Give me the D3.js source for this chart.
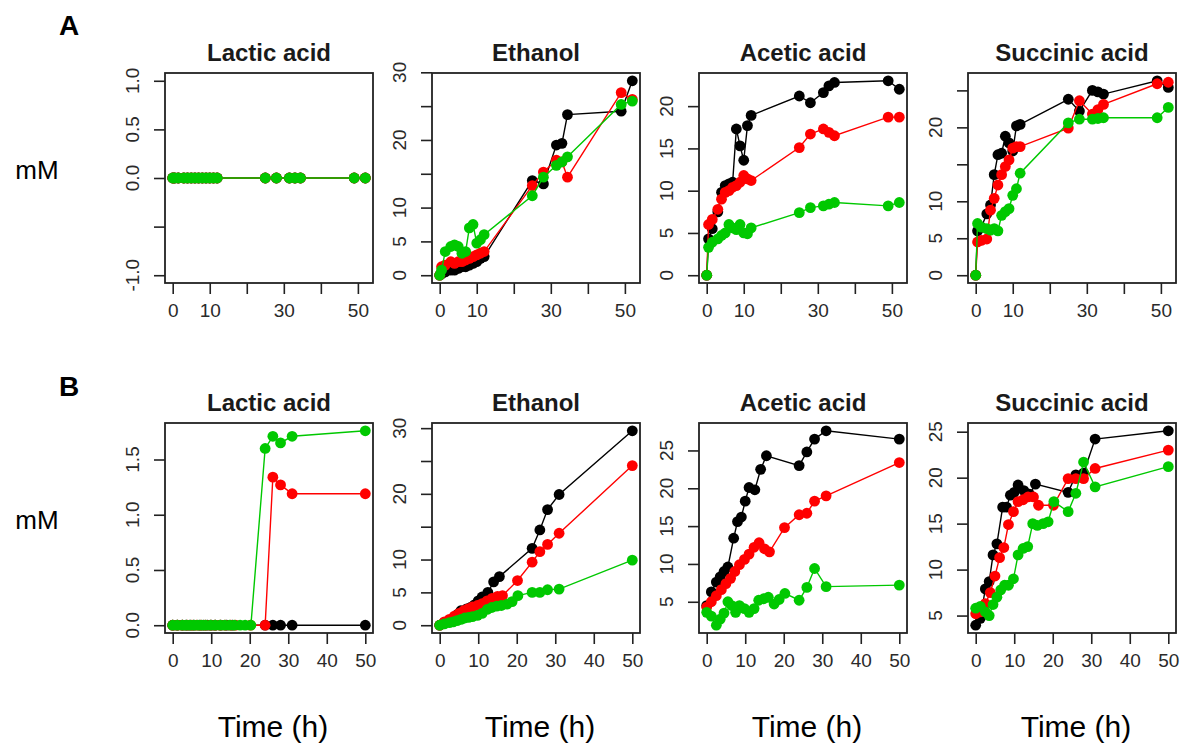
<!DOCTYPE html>
<html>
<head>
<meta charset="utf-8">
<script src="https://cdn.jsdelivr.net/npm/d3@7"></script>
<style>
	body { margin: 0; background: #fff; }
	svg { font-family: "Liberation Sans", Arial, sans-serif; }
</style>
</head>
<body>
<script>
//Panel titles and row letters
const metabolites = ["Lactic acid", "Ethanol", "Acetic acid", "Succinic acid"];
const rowLetters = ["A", "B"];
const seriesColors = ["#000000", "#ff0000", "#00c800"];

//Sampling times (h)
const timeA = [0, 0.5, 1.5, 3, 4, 5, 6, 7, 8, 9, 10, 11, 12, 25, 28, 31.5, 33, 34.5, 49, 52];
const timeB_black = [0, 1.2, 2.5, 3.5, 4.5, 5.5, 7, 8, 9, 10, 11, 12.5, 14, 15.5, 24, 26, 28, 31, 50];
const timeB_red = [0, 1.2, 2.5, 3.8, 5, 6.2, 7.3, 8.5, 9.8, 11, 12.3, 13.6, 15, 16.3, 20.2, 24, 26, 28, 31, 50];
const timeB_green = [0, 1.2, 2.5, 3.5, 4.5, 5.5, 6.5, 7.5, 8.5, 9.8, 11, 12.3, 13.5, 14.8, 16, 17.5, 18.8, 20.3, 24, 26, 28, 31, 50];

//Row A concentrations (mM)
const lacticA_black = [0, 0, 0, 0, 0, 0, 0, 0, 0, 0, 0, 0, 0, 0, 0, 0, 0, 0, 0, 0];
const lacticA_red = [0, 0, 0, 0, 0, 0, 0, 0, 0, 0, 0, 0, 0, 0, 0, 0, 0, 0, 0, 0];
const lacticA_green = [0, 0, 0, 0, 0, 0, 0, 0, 0, 0, 0, 0, 0, 0, 0, 0, 0, 0, 0, 0];
const ethanolA_black = [0, 0.2, 0.5, 0.75, 0.75, 1, 1.25, 1.25, 1.5, 1.75, 2, 2.5, 2.75, 14, 13.5, 19.25, 19.5, 23.75, 24.25, 28.75];
const ethanolA_red = [0, 1.25, 1.5, 2, 1.75, 2, 2, 2.25, 2.5, 2.75, 3, 3.25, 3.5, 13.25, 15.25, 17, 16.75, 14.5, 27, 26];
const ethanolA_green = [0, 0.75, 3.5, 4.25, 4.5, 4.25, 3.25, 3.5, 7, 7.5, 4.75, 5.25, 6, 11.75, 14.5, 16.25, 16.75, 17.5, 25.25, 25.75];
const aceticA_black = [0, 4.3, 5.5, 7.5, 9.8, 10.6, 10.8, 11, 17.3, 15.3, 13.6, 17.7, 18.9, 21.2, 20.4, 21.6, 22.4, 22.8, 23, 22];
const aceticA_red = [0, 6, 6.6, 7.8, 9, 9.8, 10, 10.4, 10.6, 11, 11.8, 11.4, 11.2, 15.1, 16.7, 17.3, 16.9, 16.5, 18.7, 18.7];
const aceticA_green = [0, 3.3, 3.9, 4.3, 4.7, 5, 6, 5.6, 5.4, 6, 5, 4.9, 5.6, 7.4, 8, 8.2, 8.4, 8.6, 8.2, 8.6];
const succinicA_black = [0, 6, 6.5, 8.3, 9.5, 13.6, 16.3, 16.5, 18.8, 17.9, 16.8, 20.2, 20.4, 23.8, 22.2, 25, 24.8, 24.5, 26.3, 25.4];
const succinicA_red = [0, 4.5, 4.7, 4.9, 8.8, 10.4, 12.2, 13.6, 14.7, 15.6, 17.2, 17.4, 17.4, 19.9, 23.6, 21.8, 22.4, 23.1, 25.9, 26.1];
const succinicA_green = [0, 7, 6.5, 6.3, 6.1, 6.3, 6, 8.1, 8.6, 9, 10.8, 11.7, 13.8, 20.6, 21.1, 21.1, 21.2, 21.3, 21.3, 22.7];

//Row B concentrations (mM)
const lacticB_black = [0, 0, 0, 0, 0, 0, 0, 0, 0, 0, 0, 0, 0, 0, 0, 0, 0, 0, 0];
const lacticB_red = [0, 0, 0, 0, 0, 0, 0, 0, 0, 0, 0, 0, 0, 0, 0, 0, 1.34, 1.27, 1.19, 1.19];
const lacticB_green = [0, 0, 0, 0, 0, 0, 0, 0, 0, 0, 0, 0, 0, 0, 0, 0, 0, 0, 1.6, 1.71, 1.65, 1.71, 1.76];
const ethanolB_black = [0, 0.4, 0.7, 0.9, 1.6, 2.2, 2.5, 2.7, 3.1, 3.7, 4.3, 5, 6.6, 7.4, 11.7, 14.5, 17.6, 19.9, 29.6];
const ethanolB_red = [0, 0.5, 0.9, 1.4, 1.8, 2.2, 2.5, 2.8, 3, 3.3, 3.7, 4.1, 4.4, 4.5, 6.8, 9.6, 11.2, 12.3, 14, 24.3];
const ethanolB_green = [0, 0.2, 0.4, 0.5, 0.7, 0.9, 1.1, 1.2, 1.3, 1.5, 1.8, 2.4, 2.7, 2.9, 3, 3.2, 3.6, 4.5, 5, 5, 5.4, 5.5, 9.9];
const aceticB_black = [4.5, 6.3, 7.6, 8.3, 9, 9.6, 13.4, 15.6, 16.2, 18.3, 20.1, 19.8, 22.5, 24.3, 23, 24.8, 26.5, 27.6, 26.5];
const aceticB_red = [4.3, 5, 5.8, 6.6, 7.4, 8.1, 9, 9.9, 10.6, 11.3, 12.2, 12.8, 12, 11.6, 14.8, 16.5, 16.7, 18.3, 19, 23.4];
const aceticB_green = [3.6, 3.1, 1.9, 2.7, 3.5, 5, 4.5, 3.6, 4.5, 4.1, 3.6, 4.1, 5.2, 5.4, 5.6, 4.7, 5.3, 6.1, 5.2, 6.9, 9.4, 7, 7.2];
const succinicB_black = [3.95, 4.7, 7.9, 8.7, 11.6, 12.8, 16.8, 16.8, 18.1, 18.4, 19.2, 18.6, 18.2, 19.3, 18.4, 20.3, 20.5, 24.2, 25.1];
const succinicB_red = [5.2, 5.4, 6.3, 7.5, 9.3, 11.3, 12.4, 14.9, 16.3, 17.4, 17.6, 17.9, 17.9, 17, 17, 19.9, 19.9, 19.9, 21, 23];
const succinicB_green = [5.8, 6, 5.4, 5, 6.2, 7, 7.8, 8.3, 8.3, 9, 11.6, 12.3, 12.5, 15, 14.8, 15, 15.2, 17.4, 16.3, 18.3, 21.7, 19, 21.2];

//Tick values and the labels R kept
const xTicks = [0, 10, 20, 30, 40, 50];
const xLabelsA = [0, 10, 30, 50];
const xLabelsB = [0, 10, 20, 30, 40, 50];
const yTicksA = [[-1, -0.5, 0, 0.5, 1], [0, 5, 10, 15, 20, 25, 30], [0, 5, 10, 15, 20], [0, 5, 10, 15, 20, 25]];
const yLabelsA = [[-1, 0, 0.5, 1], [0, 5, 10, 20, 30], [0, 5, 10, 15, 20], [0, 5, 10, 20]];
const yTicksB = [[0, 0.5, 1, 1.5], [0, 5, 10, 15, 20, 25, 30], [5, 10, 15, 20, 25], [5, 10, 15, 20, 25]];
const yLabelsB = [[0, 0.5, 1, 1.5], [0, 5, 10, 20, 30], [5, 10, 15, 20, 25], [5, 10, 15, 20, 25]];

//Frame
let width = 1182;
let height = 747;
let panelLefts = [165, 432, 699, 968];
let panelW = 208;
let panelH = 210;

let svg = d3.select("body")
	.append("svg")
	.attr("width", width)
	.attr("height", height);

let rows = [
	{
		letter: rowLetters[0], top: 73, letterY: 35,
		times: [timeA, timeA, timeA],
		values: [
			[lacticA_black, lacticA_red, lacticA_green],
			[ethanolA_black, ethanolA_red, ethanolA_green],
			[aceticA_black, aceticA_red, aceticA_green],
			[succinicA_black, succinicA_red, succinicA_green]
		],
		yTicks: yTicksA, yLabels: yLabelsA, xLabels: xLabelsA
	},
	{
		letter: rowLetters[1], top: 423, letterY: 396,
		times: [timeB_black, timeB_red, timeB_green],
		values: [
			[lacticB_black, lacticB_red, lacticB_green],
			[ethanolB_black, ethanolB_red, ethanolB_green],
			[aceticB_black, aceticB_red, aceticB_green],
			[succinicB_black, succinicB_red, succinicB_green]
		],
		yTicks: yTicksB, yLabels: yLabelsB, xLabels: xLabelsB
	}
];

//R style 4% axis extension
function padRange(ext){
	if (ext[0] === ext[1]) ext = [ext[0] - 1, ext[1] + 1];
	let r = ext[1] - ext[0];
	return [ext[0] - 0.04 * r, ext[1] + 0.04 * r];
}

function fmt(v, ticks){
	let dec = ticks.some(t => t % 1 !== 0) ? 1 : 0;
	return d3.format("." + dec + "f")(v).replace("\u2212", "-");
}

rows.forEach(function(row, ri){

	//Row letter and y title
	svg.append("text")
		.attr("x", 69).attr("y", row.letterY)
		.attr("text-anchor", "middle")
		.attr("font-size", 28).attr("font-weight", "bold")
		.text(row.letter);

	svg.append("text")
		.attr("x", 37).attr("y", row.top + 106)
		.attr("text-anchor", "middle")
		.attr("font-size", 26)
		.text("mM");

	let allTimes = d3.merge(row.times);
	let x = d3.scaleLinear()
		.domain(padRange(d3.extent(allTimes)))
		.range([0, panelW]);

	metabolites.forEach(function(name, pi){
		let series = row.values[pi];
		let yExt = d3.extent(d3.merge(series));
		let y = d3.scaleLinear()
			.domain(padRange(yExt))
			.range([panelH, 0]);

		let g = svg.append("g")
			.attr("transform", "translate(" + panelLefts[pi] + "," + row.top + ")");

		let clipId = "clip" + ri + pi;
		g.append("clipPath").attr("id", clipId)
			.append("rect").attr("width", panelW).attr("height", panelH);

		let plot = g.append("g").attr("clip-path", "url(#" + clipId + ")");

		//Series: line then filled points, black, red, green
		series.forEach(function(vals, si){
			let pts = vals.map((v, i) => [row.times[si][i], v]);
			let line = d3.line()
				.x(d => x(d[0]))
				.y(d => y(d[1]));

			plot.append("path")
				.datum(pts)
				.attr("d", line)
				.attr("fill", "none")
				.attr("stroke", seriesColors[si])
				.attr("stroke-width", 1.4);

			plot.selectAll(".pt" + si)
				.data(pts)
				.enter()
				.append("circle")
				.attr("class", "pt" + si)
				.attr("cx", d => x(d[0]))
				.attr("cy", d => y(d[1]))
				.attr("r", 5.4)
				.attr("fill", seriesColors[si]);
		});

		//Box
		g.append("rect")
			.attr("width", panelW).attr("height", panelH)
			.attr("fill", "none")
			.attr("stroke", "#222")
			.attr("stroke-width", 1.8);

		//X axis
		let xAxis = d3.axisBottom(x)
			.tickValues(xTicks)
			.tickSize(11)
			.tickFormat(d => row.xLabels.includes(d) ? d : "");
		let xa = g.append("g")
			.attr("transform", "translate(0," + panelH + ")")
			.call(xAxis);
		xa.select(".domain").remove();
		xa.selectAll("line").attr("stroke", "#222").attr("stroke-width", 1.6);
		xa.selectAll("text")
			.attr("y", 34).attr("dy", 0)
			.attr("font-size", 19)
			.attr("font-family", "Liberation Sans, Arial, sans-serif")
			.attr("fill", "#2a2a2a");

		//Y axis, labels rotated like R las=0
		let yt = row.yTicks[pi];
		let yAxis = d3.axisLeft(y)
			.tickValues(yt)
			.tickSize(11)
			.tickFormat("");
		let ya = g.append("g").call(yAxis);
		ya.select(".domain").remove();
		ya.selectAll("line").attr("stroke", "#222").attr("stroke-width", 1.6);

		g.selectAll(".ylab")
			.data(row.yLabels[pi])
			.enter()
			.append("text")
			.attr("class", "ylab")
			.attr("transform", d => "translate(-26," + y(d) + ") rotate(-90)")
			.attr("text-anchor", "middle")
			.attr("font-size", 19)
			.attr("fill", "#2a2a2a")
			.text(d => fmt(d, yt));

		//Panel title
		g.append("text")
			.attr("x", panelW / 2).attr("y", -12)
			.attr("text-anchor", "middle")
			.attr("font-size", 24).attr("font-weight", "bold")
			.attr("fill", "#1a1a1a")
			.text(name);

		//Time label under bottom row
		if (ri === 1) {
			g.append("text")
				.attr("x", panelW / 2 + 4).attr("y", panelH + 104)
				.attr("text-anchor", "middle")
				.attr("font-size", 30)
				.text("Time (h)");
		}
	});
});
</script>
</body>
</html>
